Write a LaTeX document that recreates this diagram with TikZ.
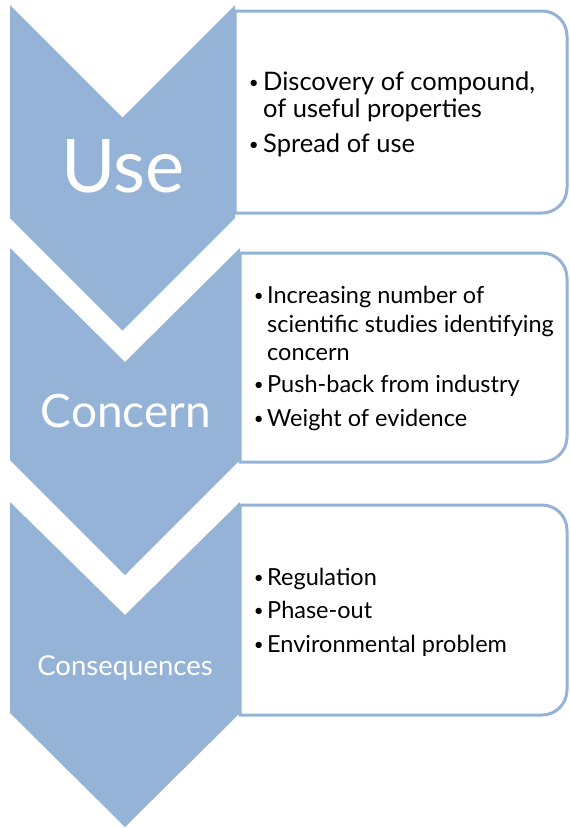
\documentclass[tikz,border=0pt]{standalone}
\usepackage{fontspec}
\setmainfont{Lato}
\definecolor{chev}{HTML}{95B3D7}
\begin{document}
\begin{tikzpicture}[x=1pt,y=-1pt,
  chevron/.style={fill=chev,draw=none},
  panel/.style={draw=chev,line width=3pt,fill=white},
  item/.style={anchor=base west,inner sep=0pt,font=\fontsize{23.5}{27}\selectfont},
  bigitem/.style={item,font=\fontsize{25.5}{29}\selectfont},
  dotmark/.style={anchor=base east,inner sep=0pt,font=\fontsize{17}{20}\selectfont},
  stage/.style={anchor=base,text=white,inner sep=0pt}]
\useasboundingbox (0,0) rectangle (570,828);
% panels (square on the left, rounded on the right)
\draw[panel] (235,11) -- (542,11) arc[start angle=90,end angle=0,radius=25pt]
  -- (567,188) arc[start angle=0,end angle=-90,radius=25pt] -- (235,213) -- cycle;
\draw[panel] (240,253) -- (542,253) arc[start angle=90,end angle=0,radius=25pt]
  -- (567,437) arc[start angle=0,end angle=-90,radius=25pt] -- (240,462) -- cycle;
\draw[panel] (240,505) -- (542,505) arc[start angle=90,end angle=0,radius=25pt]
  -- (567,690) arc[start angle=0,end angle=-90,radius=25pt] -- (240,715) -- cycle;
% chevrons
\fill[chevron] (10,5) -- (122.5,117.5) -- (235,5) -- (235,218) -- (122.5,330.5) -- (10,218) -- cycle;
\fill[chevron] (10,248) -- (125,362) -- (240,248) -- (240,460) -- (125,575) -- (10,460) -- cycle;
\fill[chevron] (10,502) -- (125,615) -- (240,502) -- (240,713) -- (125,827) -- (10,713) -- cycle;
% stage labels
\node[stage,font=\fontsize{74}{80}\selectfont] (use) at (123,192) {Use};
\node[stage,font=\fontsize{46}{50}\selectfont] (concern) at (126,427) {Concern};
\node[stage,font=\fontsize{27.5}{30}\selectfont] (conseq) at (125,675) {Consequences};
% box 1
\node[dotmark] (b1a) at (259,88) {•};
\node[bigitem] (t1a) at (263,90) {Discovery of compound,};
\node[bigitem] (t1b) at (263,117) {of useful properties};
\node[dotmark] (b1b) at (259,150) {•};
\node[bigitem] (t1c) at (263,152) {Spread of use};
% box 2
\node[dotmark] (b2a) at (264,301) {•};
\node[item] (t2a) at (267,303) {Increasing number of};
\node[item] (t2b) at (267,332) {scientific studies identifying};
\node[item] (t2c) at (267,360) {concern};
\node[dotmark] (b2b) at (264,390) {•};
\node[item] (t2d) at (267,392) {Push-back from industry};
\node[dotmark] (b2c) at (264,424) {•};
\node[item] (t2e) at (267,426) {Weight of evidence};
% box 3
\node[dotmark] (b3a) at (264,583) {•};
\node[item] (t3a) at (267,585) {Regulation};
\node[dotmark] (b3b) at (264,616) {•};
\node[item] (t3b) at (267,618) {Phase-out};
\node[dotmark] (b3c) at (264,650) {•};
\node[item] (t3c) at (267,652) {Environmental problem};
\end{tikzpicture}
\end{document}
